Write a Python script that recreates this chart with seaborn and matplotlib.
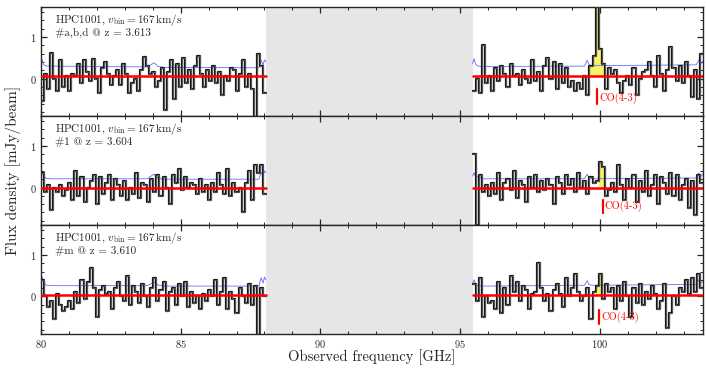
import numpy as np
import pandas as pd
import matplotlib
matplotlib.use("Agg")
import matplotlib.pyplot as plt
import seaborn as sns
from matplotlib.ticker import MultipleLocator

# ---------------- data ----------------
seg_left = (80.0, 88.05)
seg_right = (95.45, 103.7)
gap = (88.05, 95.45)

panel_titles = ["HPC1001, $v_{\\rm bin} = 167\\,{\\rm km/s}$"] * 3
panel_ids = ["#a,b,d @ z = 3.613", "#1 @ z = 3.604", "#m @ z = 3.610"]

# flux per channel (mJy/beam), left and right segments of each panel
top_left = [-0.55, 0.1, -0.25, 0.62, 0.0, -0.3, 0.45, -0.2, 0.05, -0.3,
            0.1, 0.05, 0.35, -0.1, 0.45, 0.15, -0.05, 0.48, 0.0, -0.35,
            0.25, 0.4, 0.1, -0.15, 0.05, 0.2, -0.15, 0.35, 0.1, -0.35,
            -0.1, 0.0, -0.3, 0.2, 0.52, 0.3, 0.1, 0.15, -0.2, -0.05,
            0.25, -0.75, 0.15, 0.45, -0.5, 0.35, -0.2, 0.5, -0.1, 0.2,
            -0.25, 0.3, 0.55, 0.1, -0.2, 0.2, -0.05, 0.3, -0.1, 0.15,
            -0.4, 0.05, -0.05, 0.25, 0.2, -0.3, 0.1, 0.45, -0.2, 0.1,
            -0.25, -0.95, 0.6, 0.3, -0.35]
top_right = [-0.3, 0.0, -0.35, 0.8, -0.1, 0.05, -0.3, 0.25, -0.05, 0.3,
             0.1, -0.2, 0.35, 0.05, 0.1, -0.15, 0.2, 0.0, -0.1, 0.45,
             -0.05, 0.15, -0.3, 0.3, 0.5, 0.0, 0.4, -0.25, 0.35, -0.1,
             0.25, -0.2, -0.05, -0.3, -0.1, -0.25, 0.05, -0.4, 0.3, 0.55,
             2.5, 0.7, 0.35, -0.25, 0.25, 0.1, 0.2, -0.1, -0.35, -0.05,
             0.05, -0.15, 0.25, -0.4, 0.0, 0.15, 0.2, 0.4, 0.05, -0.2,
             0.55, 0.1, -0.3, 0.2, 0.75, 0.25, -0.05, 0.3, -0.1, 0.4,
             0.05, -0.45, 0.2, -0.5, 0.6]
mid_left = [0.35, -0.1, 0.05, -0.55, 0.0, -0.1, 0.05, -0.2, -0.05, 0.1,
            -0.3, 0.4, -0.2, 0.25, -0.35, 0.0, 0.15, 0.3, -0.4, 0.25,
            -0.15, 0.1, 0.3, -0.3, 0.2, 0.05, -0.2, 0.15, -0.3, 0.0,
            -0.15, 0.35, -0.25, 0.1, 0.05, -0.35, 0.2, -0.1, 0.3, -0.2,
            0.25, 0.0, -0.4, 0.3, 0.1, 0.45, -0.05, 0.25, 0.0, 0.1,
            0.05, -0.15, 0.2, -0.1, 0.05, -0.3, 0.1, -0.1, 0.35, 0.05,
            -0.15, 0.45, -0.2, 0.1, -0.1, 0.0, -0.6, 0.1, 0.4, -0.3,
            0.55, 0.35, 0.55, -0.15]
mid_right = [0.8, -0.9, 0.3, -0.1, 0.05, -0.2, 0.1, -0.15, 0.35, -0.3,
             0.1, 0.2, -0.05, 0.4, -0.25, 0.15, 0.05, -0.35, 0.25, 0.0,
             0.3, -0.1, 0.15, -0.05, 0.2, 0.05, -0.4, 0.25, 0.1, -0.15,
             0.3, 0.05, 0.2, -0.1, 0.35, 0.0, 0.15, -0.15, 0.25, 0.1,
             0.15, 0.62, 0.5, -0.2, -0.05, 0.1, -0.1, 0.55, 0.05, -0.3,
             0.2, 0.0, 0.3, -0.35, 0.15, -0.1, 0.4, -0.2, 0.05, 0.3,
             -0.4, 0.25, 0.1, -0.15, 0.35, -0.2, 0.3, -0.3, 0.05, 0.2,
             -0.5, 0.15, -0.65, 0.3, 0.1]
bot_left = [0.4, 0.0, -0.25, -0.1, -0.55, 0.05, -0.2, -0.35, -0.25, -0.1,
            -0.3, 0.1, -0.15, 0.4, -0.05, 0.35, 0.68, 0.2, -0.5, 0.15,
            0.25, 0.05, 0.1, -0.3, 0.2, 0.35, 0.0, -0.1, 0.5, -0.2,
            0.25, 0.1, -0.15, 0.3, 0.0, -0.25, 0.2, 0.45, -0.1, 0.15,
            0.35, -0.35, 0.1, 0.2, -0.2, 0.3, 0.0, 0.35, -0.25, 0.1,
            -0.15, 0.0, -0.3, 0.05, -0.1, 0.15, 0.0, 0.4, -0.2, 0.1,
            0.45, -0.3, 0.1, -0.05, -0.4, 0.2, 0.0, -0.15, 0.3, -0.2,
            0.25, -0.95, 0.2, 0.0]
bot_right = [0.3, -0.1, 0.45, -0.5, 0.0, -0.15, -0.1, -0.3, 0.35, -0.4,
             0.2, -0.2, 0.5, 0.1, 0.35, -0.1, 0.25, 0.15, -0.3, 0.05,
             0.1, 0.8, 0.2, -0.1, 0.05, -0.35, 0.15, 0.3, 0.05, -0.25,
             0.45, 0.0, 0.2, 0.55, 0.1, -0.1, 0.0, 0.2, -0.55, 0.1,
             0.25, 0.55, -0.05, 0.3, 0.1, 0.2, -0.3, 0.25, -0.1, 0.35,
             0.0, -0.5, 0.2, -0.15, 0.3, -0.2, 0.1, -0.05, 0.25, 0.05,
             -0.3, -0.1, 0.3, -0.75, -0.4, 0.0, -0.2, 0.2, 0.1, 0.4,
             0.05, 0.45, 0.1, 0.55, 0.2]
spectra = [(top_left, top_right), (mid_left, mid_right), (bot_left, bot_right)]

# channels (0-based, right segment) shaded as the line
line_channels = [[38, 39, 40, 41, 42], [41, 42], [40, 41]]

# noise (rms) curves: knots
noise_left_f = [80.0, 80.05, 80.1, 80.2, 80.4, 83.8, 83.95, 84.05, 84.2, 84.4, 87.8, 87.88, 87.95, 88.0, 88.05]
noise_right_f = [95.45, 95.5, 95.56, 95.65, 95.8, 99.45, 99.55, 99.62, 99.72, 103.45, 103.55, 103.62, 103.7]
noise_left_v = [[0.40, 0.45, 0.33, 0.30, 0.30, 0.28, 0.34, 0.38, 0.29, 0.27, 0.26, 0.44, 0.33, 0.45, 0.40],
                [0.30, 0.36, 0.26, 0.22, 0.21, 0.21, 0.28, 0.32, 0.22, 0.20, 0.20, 0.36, 0.28, 0.40, 0.36],
                [0.38, 0.46, 0.32, 0.27, 0.26, 0.26, 0.31, 0.35, 0.27, 0.25, 0.25, 0.45, 0.32, 0.47, 0.40]]
noise_right_v = [[0.36, 0.48, 0.34, 0.30, 0.29, 0.30, 0.44, 0.33, 0.31, 0.33, 0.45, 0.36, 0.42],
                 [0.28, 0.36, 0.24, 0.27, 0.21, 0.21, 0.32, 0.23, 0.21, 0.23, 0.35, 0.27, 0.33],
                 [0.33, 0.40, 0.29, 0.26, 0.25, 0.27, 0.38, 0.28, 0.27, 0.29, 0.40, 0.33, 0.37]]

baseline = [0.06, 0.0, 0.04]
co_freq = [99.9, 100.1, 99.97]
co_marker = [(-0.24, -0.62), (-0.31, -0.62), (-0.32, -0.66)]
co_label = "CO(4-3)"

ylim = (-0.9, 1.72)
xlim = (80.0, 103.7)

# ---------------- style ----------------
sns.set_style("ticks")
plt.rcParams.update({
    "font.family": ["cmr10", "DejaVu Serif"],
    "mathtext.fontset": "cm",
    "axes.unicode_minus": False,
    "axes.formatter.use_mathtext": True,
    "axes.linewidth": 1.0,
    "xtick.direction": "in", "ytick.direction": "in",
    "xtick.top": True, "ytick.right": True,
})

fig = plt.figure(figsize=(7.06, 3.71), dpi=100)
gs = fig.add_gridspec(3, 1, left=0.058, right=0.996, top=0.981, bottom=0.100, hspace=0)
axes = [fig.add_subplot(gs[i]) for i in range(3)]


def step_df(seg, vals):
    n = len(vals)
    edges = np.linspace(seg[0], seg[1], n + 1)
    return pd.DataFrame({"f": edges, "v": list(vals) + [vals[-1]]}), edges


for i, ax in enumerate(axes):
    ax.axvspan(gap[0], gap[1], color="#e6e6e6", lw=0, zorder=0)
    (lv, rv) = spectra[i]
    for seg, vals, is_right in [(seg_left, lv, False), (seg_right, rv, True)]:
        df, edges = step_df(seg, vals)
        if is_right:
            ch = line_channels[i]
            lo, hi = edges[ch[0]], edges[ch[-1] + 1]
            m = (df["f"] >= lo - 1e-9) & (df["f"] <= hi + 1e-9)
            sub = df[m].copy()
            sub.iloc[-1, 1] = sub.iloc[-2, 1]
            ax.fill_between(sub["f"], baseline[i], sub["v"], step="post",
                            color="#f6f56a", lw=0, zorder=1)
        sns.lineplot(data=df, x="f", y="v", ax=ax, drawstyle="steps-post",
                     color="#1a1a1a", lw=1.6, zorder=3, sort=False)
        sns.lineplot(data=df, x="f", y="v", ax=ax, drawstyle="steps-post",
                     color="#6e6e6e", lw=0.5, zorder=4, sort=False)
        sns.lineplot(x=[seg[0], seg[1]], y=[baseline[i], baseline[i]], ax=ax,
                     color="red", lw=1.8, zorder=5)
    sns.lineplot(x=noise_left_f, y=noise_left_v[i], ax=ax, color="#6b6bff", lw=0.6, zorder=2, sort=False)
    sns.lineplot(x=noise_right_f, y=noise_right_v[i], ax=ax, color="#6b6bff", lw=0.6, zorder=2, sort=False)

    # CO marker
    ax.plot([co_freq[i], co_freq[i]], co_marker[i], color="red", lw=1.6, zorder=6)
    ax.text(co_freq[i] + 0.07, co_marker[i][1] + 0.02, co_label, color="red",
            fontsize=7.5, va="bottom", ha="left", zorder=6)

    ax.text(0.021, 0.88, panel_titles[i], transform=ax.transAxes, fontsize=8, va="center", ha="left")
    ax.text(0.021, 0.76, panel_ids[i], transform=ax.transAxes, fontsize=8, va="center", ha="left")

    ax.set_xlim(*xlim)
    ax.set_ylim(*ylim)
    ax.set_xlabel("")
    ax.set_ylabel("")
    ax.xaxis.set_major_locator(MultipleLocator(5))
    ax.xaxis.set_minor_locator(MultipleLocator(1))
    ax.yaxis.set_major_locator(MultipleLocator(1))
    ax.yaxis.set_minor_locator(MultipleLocator(0.2))
    ax.tick_params(which="major", length=4.5, width=0.9, labelsize=7.5, pad=3,
                   top=True, right=True, direction="in")
    ax.tick_params(which="minor", length=2.2, width=0.7, top=True, right=True, direction="in")
    if i < 2:
        ax.tick_params(labelbottom=False)
    for s in ax.spines.values():
        s.set_linewidth(1.0)

fig.text(0.018, 0.54, "Flux density [mJy/beam]", rotation=90, va="center", ha="center", fontsize=11)
fig.text(0.527, 0.037, "Observed frequency [GHz]", va="center", ha="center", fontsize=10.5)

fig.savefig("out.png", dpi=100)
